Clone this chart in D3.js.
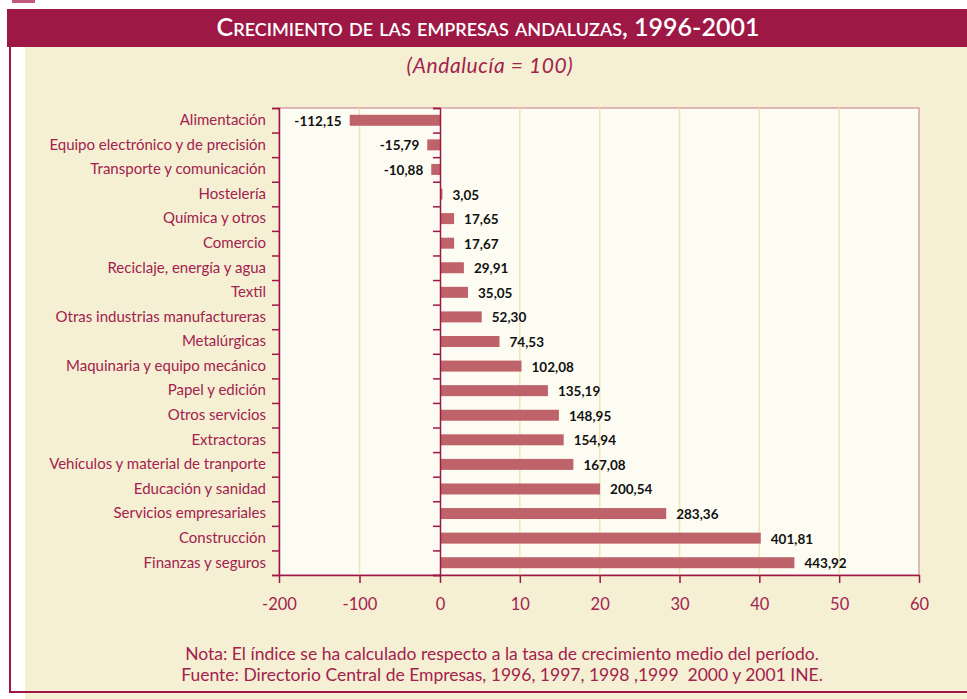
<!DOCTYPE html>
<html lang="es">
<head>
<meta charset="utf-8">
<script src="https://cdn.jsdelivr.net/npm/d3@7"></script>
<style>
  html, body { margin: 0; padding: 0; background: #fff; }
  svg { display: block; font-family: Lato, "Open Sans", sans-serif; }
</style>
</head>
<body>
<svg id="chart" width="967" height="699"></svg>
<script>
  // data
  const sectors = [
    "Alimentación", "Equipo electrónico y de precisión", "Transporte y comunicación",
    "Hostelería", "Química y otros", "Comercio", "Reciclaje, energía y agua", "Textil",
    "Otras industrias manufactureras", "Metalúrgicas", "Maquinaria y equipo mecánico",
    "Papel y edición", "Otros servicios", "Extractoras", "Vehículos y material de tranporte",
    "Educación y sanidad", "Servicios empresariales", "Construcción", "Finanzas y seguros"
  ];
  const growth = [
    -112.15, -15.79, -10.88, 3.05, 17.65, 17.67, 29.91, 35.05, 52.30, 74.53,
    102.08, 135.19, 148.95, 154.94, 167.08, 200.54, 283.36, 401.81, 443.92
  ];
  const tickValues = [-200, -100, 0, 100, 200, 300, 400, 500, 600];
  const tickLabels = ["-200", "-100", "0", "10", "20", "30", "40", "50", "60"];

  const crimson = "#9e1845";
  const textRed = "#a3214e";
  const beige = "#f5f0d3";

  const svg = d3.select("#chart");

  // frame / background
  svg.append("rect").attr("x", 12).attr("y", 0).attr("width", 23).attr("height", 3).attr("fill", "#c4587a");
  svg.append("rect").attr("x", 25).attr("y", 47).attr("width", 942).attr("height", 652).attr("fill", beige);
  svg.append("rect").attr("x", 7).attr("y", 9).attr("width", 960).attr("height", 38).attr("fill", crimson);
  svg.append("rect").attr("x", 9).attr("y", 47).attr("width", 2).attr("height", 646).attr("fill", crimson);
  svg.append("rect").attr("x", 9).attr("y", 691).attr("width", 958).attr("height", 2).attr("fill", crimson);

  svg.append("text")
    .attr("x", 488).attr("y", 36)
    .attr("text-anchor", "middle")
    .attr("fill", "#fff")
    .style("font-size", "25px")
    .style("font-variant", "small-caps")
    .style("font-weight", 600)
    .text("Crecimiento de las empresas andaluzas, 1996-2001");

  svg.append("text")
    .attr("x", 490).attr("y", 73)
    .attr("text-anchor", "middle")
    .attr("fill", textRed)
    .style("font-size", "21px")
    .style("letter-spacing", "0.6px")
    .style("font-style", "italic")
    .text("(Andalucía = 100)");

  const plotL = 279, plotR = 919, plotT = 108, plotB = 575;

  const x = d3.scaleLinear()
    .domain([-200, 0, 600])
    .range([plotL, 440, plotR]);

  const y = d3.scaleBand()
    .domain(sectors)
    .range([plotT, plotB]);

  const yEdge = d3.scaleLinear()
    .domain([0, sectors.length])
    .range([plotT, plotB]);

  // plot area
  svg.append("rect")
    .attr("x", plotL).attr("y", plotT)
    .attr("width", plotR - plotL).attr("height", plotB - plotT)
    .attr("fill", "#fdfcf3")
    .attr("stroke", "#c9748a")
    .attr("stroke-width", 1);

  svg.append("g")
    .selectAll("line")
    .data(tickValues.filter(d => d !== -200 && d !== 0 && d !== 600))
    .join("line")
    .attr("x1", d => x(d)).attr("x2", d => x(d))
    .attr("y1", plotT).attr("y2", plotB)
    .attr("stroke", "#eee5b0")
    .attr("stroke-width", 1.5);

  // bars
  svg.append("g")
    .selectAll("rect")
    .data(growth)
    .join("rect")
    .attr("x", d => x(Math.min(0, d)))
    .attr("y", (d, i) => y(sectors[i]) + y.bandwidth() / 2 - 5.5)
    .attr("width", d => Math.abs(x(d) - x(0)))
    .attr("height", 11)
    .attr("fill", "#bf636b");

  // value labels
  svg.append("g")
    .selectAll("text")
    .data(growth)
    .join("text")
    .attr("x", d => d < 0 ? x(d) - 8 : x(d) + 10)
    .attr("y", (d, i) => y(sectors[i]) + y.bandwidth() / 2 + 5.5)
    .attr("text-anchor", d => d < 0 ? "end" : "start")
    .attr("fill", "#111")
    .style("font-size", "13.5px")
    .style("font-weight", "bold")
    .text(d => d.toFixed(2).replace(".", ","));

  // left axis with ticks at band edges
  const edgeAxis = d3.axisLeft(yEdge)
    .tickValues(d3.range(0, sectors.length + 1))
    .tickFormat("")
    .tickSizeOuter(0)
    .tickSize(7);

  svg.append("g")
    .attr("transform", `translate(${plotL},0)`)
    .call(edgeAxis)
    .call(g => g.selectAll("line, path").attr("stroke", crimson).attr("stroke-width", 1.5));

  svg.append("g")
    .attr("transform", `translate(${x(0)},0)`)
    .call(edgeAxis)
    .call(g => g.selectAll("line, path").attr("stroke", crimson).attr("stroke-width", 1.5));

  // category labels
  svg.append("g")
    .attr("transform", `translate(${plotL},0)`)
    .call(d3.axisLeft(y).tickSize(0).tickPadding(13))
    .call(g => g.select(".domain").remove())
    .call(g => g.selectAll("text")
      .attr("fill", textRed)
      .style("font-size", "15px")
      .style("font-family", "Lato, sans-serif"));

  // bottom axis
  svg.append("g")
    .attr("transform", `translate(0,${plotB})`)
    .call(d3.axisBottom(x)
      .tickValues(tickValues)
      .tickFormat((d, i) => tickLabels[i])
      .tickSize(8)
      .tickSizeOuter(0)
      .tickPadding(15))
    .call(g => g.selectAll("line, path").attr("stroke", crimson).attr("stroke-width", 1.5))
    .call(g => g.selectAll("text")
      .attr("fill", textRed)
      .style("font-size", "16.5px")
      .style("font-family", "Lato, sans-serif"));

  // notes
  const notes = [
    "Nota: El índice se ha calculado respecto a la tasa de crecimiento medio del período.",
    "Fuente: Directorio Central de Empresas, 1996, 1997, 1998 ,1999  2000 y 2001 INE."
  ];
  svg.append("g")
    .selectAll("text")
    .data(notes)
    .join("text")
    .attr("x", 502)
    .attr("y", (d, i) => 660 + i * 21)
    .attr("text-anchor", "middle")
    .attr("fill", textRed)
    .style("font-size", "17.5px")
    .style("white-space", "pre")
    .text(d => d);
</script>
</body>
</html>
